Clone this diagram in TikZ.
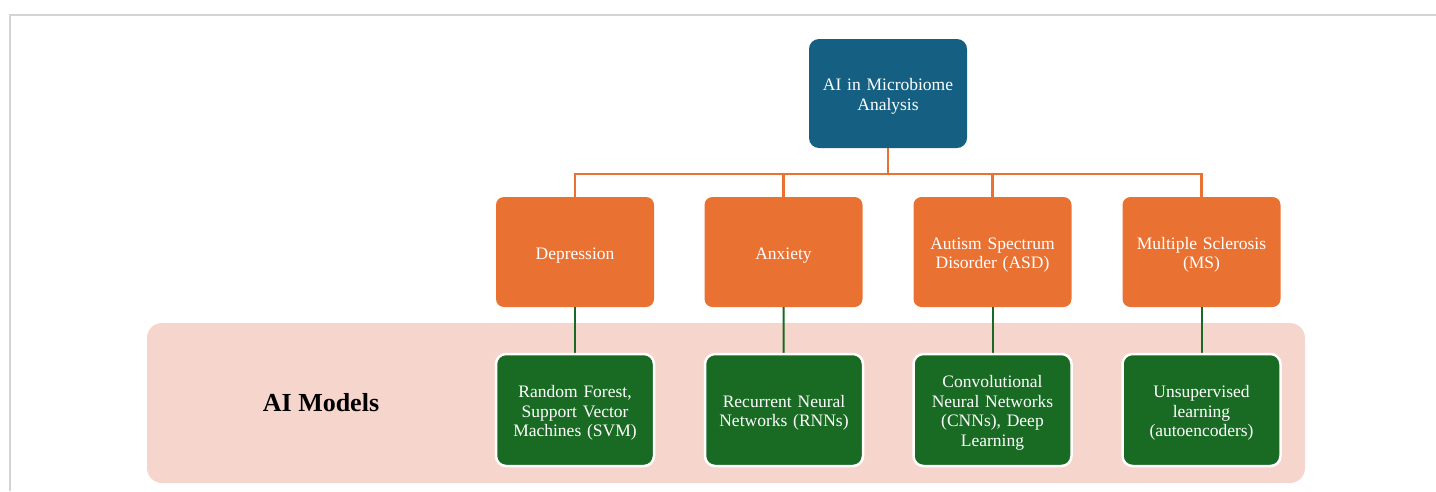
\documentclass[tikz,border=0pt]{standalone}
\usepackage{fontspec}
\setmainfont{Liberation Serif}
\definecolor{topblue}{HTML}{156082}
\definecolor{catorange}{HTML}{E97132}
\definecolor{modgreen}{HTML}{196B24}
\definecolor{bandpink}{HTML}{F6D5CD}
\definecolor{framegray}{HTML}{D4D4D4}
\tikzset{
  boxtext/.style={text=white, align=center, font=\fontsize{17.5}{19.5}\selectfont, inner sep=0pt, outer sep=0pt,
    execute at begin node={\rule{0pt}{18pt}}},
  topbox/.style={boxtext, fill=topblue, rounded corners=10pt, minimum width=158pt, minimum height=109pt, text width=148pt},
  catbox/.style={boxtext, fill=catorange, rounded corners=8pt, minimum width=158pt, minimum height=110pt, text width=148pt},
  modbox/.style={boxtext, fill=modgreen, draw=white, line width=2.5pt, rounded corners=10pt, minimum width=158pt, minimum height=112pt, text width=140pt},
  bandbox/.style={fill=bandpink, rounded corners=15pt, minimum width=1158pt, minimum height=160pt, inner sep=0pt, outer sep=0pt},
  orangeline/.style={draw=catorange, line width=2.5pt},
  greenline/.style={draw=modgreen, line width=2pt},
  frameline/.style={draw=framegray, line width=1.5pt},
}
\begin{document}
\begin{tikzpicture}[x=1pt, y=-1pt]
\useasboundingbox (0,0) rectangle (1436,491);
\coordinate (fa) at (10,491);
\coordinate (fb) at (10,15);
\coordinate (fc) at (1436,15);
\draw[frameline] (fa) -- (fb) -- (fc);

\node[bandbox] (band) at (726,403) {};
\node[font=\fontsize{26}{30}\selectfont\bfseries, text=black] (aimodels) at (321,403) {AI Models};

\node[topbox] (top) at (888,93.5) {AI in Microbiome\\Analysis};

\node[catbox] (dep) at (575,252) {Depression};
\node[catbox] (anx) at (783.5,252) {Anxiety};
\node[catbox] (asd) at (992.5,252) {Autism Spectrum\\Disorder (ASD)};
\node[catbox] (ms) at (1201.5,252) {Multiple Sclerosis\\(MS)};

\coordinate (bus) at (888,174);
\draw[orangeline] (top.south) -- (bus);
\draw[orangeline] (dep.north) |- (bus) -| (ms.north);
\draw[orangeline] (anx.north) -- (anx.north |- bus);
\draw[orangeline] (asd.north) -- (asd.north |- bus);

\coordinate (g1) at (575,410);
\coordinate (g2) at (784,410);
\coordinate (g3) at (992.5,410);
\coordinate (g4) at (1201.5,410);
\draw[greenline] (dep.south) -- (g1);
\draw[greenline] (anx.south) -- (g2);
\draw[greenline] (asd.south) -- (g3);
\draw[greenline] (ms.south) -- (g4);

\node[modbox] (rf) at (g1) {Random Forest,\\Support Vector\\Machines (SVM)};
\node[modbox] (rnn) at (g2) {Recurrent Neural\\Networks (RNNs)};
\node[modbox] (cnn) at (g3) {Convolutional\\Neural Networks\\(CNNs), Deep\\Learning};
\node[modbox] (ae) at (g4) {Unsupervised\\learning\\(autoencoders)};
\end{tikzpicture}
\end{document}
